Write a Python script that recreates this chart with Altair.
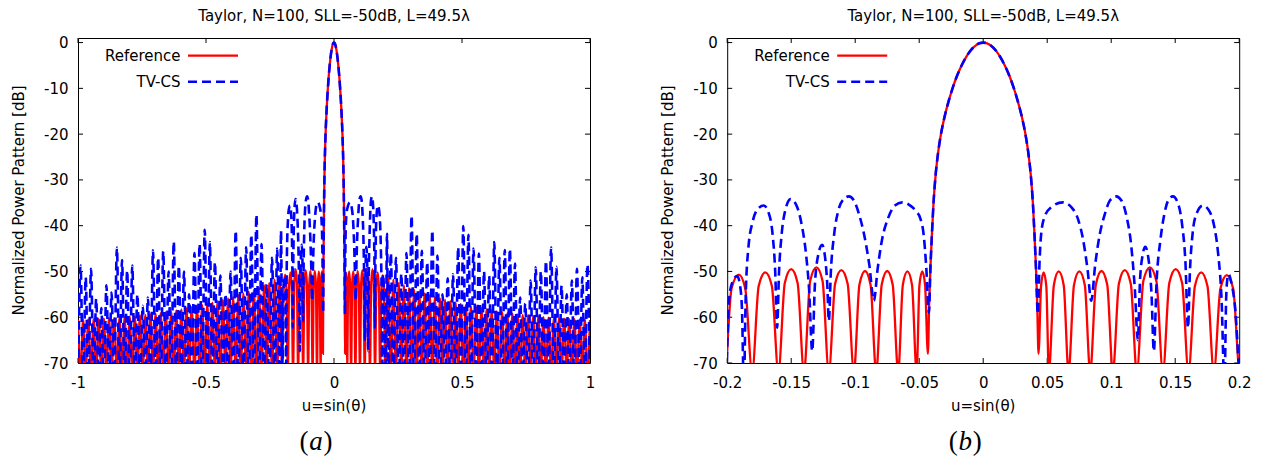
import altair as alt
import pandas as pd

FONT = "DejaVu Sans"
SERIF = "Liberation Serif"
RED = "#ff0000"
BLUE = "#0000ff"
TITLE = "Taylor, N=100, SLL=-50dB, L=49.5\u03bb"
YTITLE = "Normalized Power Pattern [dB]"
XTITLE = "u=sin(\u03b8)"
SERIES = ["Reference", "TV-CS"]

W, H = 512, 325
YTICKS = [-70, -60, -50, -40, -30, -20, -10, 0]
XTICKS_A = [-1, -0.5, 0, 0.5, 1]
XTICKS_B = [-0.2, -0.15, -0.1, -0.05, 0, 0.05, 0.1, 0.15, 0.2]

# ---- Reference pattern, |u| <= 0.2 ----
RED_NEAR_U = [
    -0.2020, -0.1966, -0.1909, -0.1859,
    -0.1805, -0.1754, -0.1702, -0.1651,
    -0.1600, -0.1550, -0.1500, -0.1450,
    -0.1400, -0.1352, -0.1303, -0.1255,
    -0.1206, -0.1157, -0.1108, -0.1059,
    -0.1010, -0.0967, -0.0923, -0.0880,
    -0.0836, -0.0793, -0.0750, -0.0707,
    -0.0664, -0.0628, -0.0592, -0.0556,
    -0.0520, -0.0498, -0.0476, -0.0454,
    -0.0432, -0.0422, -0.0412, -0.0400, -0.0388, -0.0372, -0.0352, -0.0333,
    -0.0300, -0.0270, -0.0242, -0.0205, -0.0165, -0.0130, -0.0096, -0.0060, -0.0030,
    0.0000,
    0.0030, 0.0060, 0.0096, 0.0130, 0.0165, 0.0205, 0.0242, 0.0270, 0.0300,
    0.0333, 0.0352, 0.0372, 0.0388, 0.0400, 0.0412, 0.0422, 0.0432,
    0.0452, 0.0472, 0.0493,
    0.0513, 0.0552, 0.0590, 0.0629,
    0.0667, 0.0709, 0.0751, 0.0794,
    0.0836, 0.0880, 0.0924, 0.0969,
    0.1013, 0.1060, 0.1106, 0.1153,
    0.1200, 0.1251, 0.1302, 0.1353,
    0.1404, 0.1454, 0.1504, 0.1554,
    0.1604, 0.1654, 0.1703, 0.1752,
    0.1802, 0.1853, 0.1903, 0.1953,
    0.2005,
]
RED_NEAR_DB = [
    -72, -53.7, -50.7, -53.7,
    -72, -53.2, -50.2, -53.2,
    -72, -52.5, -49.5, -52.5,
    -72, -52.1, -49.1, -52.1,
    -72, -52.7, -49.7, -52.7,
    -72, -52.9, -49.9, -52.9,
    -72, -52.9, -49.9, -52.9,
    -72, -53.0, -50.0, -53.0,
    -72, -53.0, -50.0, -53.0,
    -68, -57, -49, -41.5, -35, -29, -24, -20.5,
    -16, -12.8, -10.2, -7.3, -4.8, -3.0, -1.65, -0.65, -0.16,
    0,
    -0.16, -0.65, -1.65, -3.0, -4.8, -7.3, -10.2, -12.8, -16,
    -20.5, -24, -29, -35, -41.5, -49, -57, -68,
    -53.2, -50.2, -53.2,
    -72, -53.0, -50.0, -53.0,
    -72, -53.0, -50.0, -53.0,
    -72, -52.9, -49.9, -52.9,
    -72, -52.7, -49.7, -52.7,
    -72, -52.1, -49.1, -52.1,
    -72, -52.5, -49.5, -52.5,
    -72, -53.2, -50.2, -53.2,
    -72, -53.8, -50.8, -53.8,
    -72,
]

# ---- TV-CS pattern, |u| <= 0.2 ----
BLUE_NEAR_U = [
    -0.2015, -0.1985, -0.1955, -0.1922, -0.1900, -0.1885,
    -0.1870, -0.1855, -0.1835, -0.1800, -0.1760, -0.1714, -0.1675, -0.1645, -0.1625,
    -0.1610, -0.1595, -0.1575, -0.1545, -0.1505, -0.1460, -0.1420, -0.1385, -0.1360,
    -0.1336, -0.1315, -0.1290, -0.1258, -0.1235, -0.1218,
    -0.1206, -0.1190, -0.1165, -0.1130, -0.1090, -0.1050, -0.1010, -0.0970, -0.0930, -0.0890,
    -0.0854, -0.0825, -0.0790, -0.0745, -0.0690, -0.0633, -0.0575, -0.0525, -0.0490, -0.0465, -0.0445,
    -0.0424, -0.0412, -0.0400, -0.0388, -0.0372, -0.0352, -0.0333,
    -0.0300, -0.0270, -0.0242, -0.0205, -0.0165, -0.0130, -0.0096, -0.0060, -0.0030,
    0.0000,
    0.0030, 0.0060, 0.0096, 0.0130, 0.0165, 0.0205, 0.0242, 0.0270, 0.0300,
    0.0333, 0.0352, 0.0372, 0.0388, 0.0400, 0.0412, 0.0427,
    0.0440, 0.0453, 0.0480, 0.0530, 0.0622, 0.0690, 0.0740, 0.0780, 0.0815,
    0.0844, 0.0875, 0.0910, 0.0950, 0.0990, 0.1039, 0.1080, 0.1120, 0.1155, 0.1185,
    0.1208, 0.1225, 0.1245, 0.1266, 0.1290, 0.1315,
    0.1333, 0.1355, 0.1385, 0.1415, 0.1445, 0.1482, 0.1520, 0.1555, 0.1580,
    0.1600, 0.1615, 0.1635, 0.1665, 0.1716, 0.1760, 0.1800, 0.1835, 0.1862,
    0.1885, 0.1898, 0.1908, 0.1917, 0.1935, 0.1965,
    0.2015,
]
BLUE_NEAR_DB = [
    -75, -56, -52, -51.0, -53, -58,
    -75, -55, -45, -39, -36.3, -35.6, -37.3, -42, -50,
    -62.3, -50, -42, -36.5, -34.2, -35.5, -39.5, -46, -54,
    -67.4, -53, -46.5, -44.2, -47, -53,
    -60.8, -50, -42, -36.5, -34.2, -33.6, -34.5, -37.5, -42, -48.5,
    -56.4, -49.5, -43, -38.5, -35.6, -34.9, -35.5, -36.8, -38.5, -42, -49,
    -59, -49, -41.5, -35, -29, -24, -20.5,
    -16, -12.8, -10.2, -7.3, -4.8, -3.0, -1.65, -0.65, -0.16,
    0,
    -0.16, -0.65, -1.65, -3.0, -4.8, -7.3, -10.2, -12.8, -16,
    -20.5, -24, -29, -35, -41.5, -49, -59.3,
    -48, -41.8, -38, -36, -34.9, -36, -38.5, -43, -49.5,
    -56.4, -48.5, -42, -37.5, -34.5, -33.6, -34.5, -38, -44, -54,
    -65, -52, -46.5, -44.6, -47, -55,
    -67.4, -52, -43, -37.5, -34.5, -33.6, -35, -40, -48,
    -62.3, -50, -42, -37.5, -35.6, -36.5, -39.5, -46, -56,
    -75, -56, -51.5, -50.6, -52, -57,
    -75,
]

# ---- far side-lobe region 0.2 < |u| <= 1 ----
FAR_U_A = [0.212, 0.232, 0.253, 0.273, 0.293, 0.313, 0.333, 0.354, 0.374, 0.394,
           0.414, 0.434, 0.455, 0.475, 0.495, 0.515, 0.535, 0.556, 0.576, 0.596,
           0.616, 0.636, 0.657, 0.677, 0.697, 0.717, 0.737, 0.758, 0.778, 0.798,
           0.818, 0.838, 0.859, 0.879, 0.899, 0.919, 0.939, 0.960, 0.980, 1.000]
FAR_U_B = [0.222, 0.242, 0.263, 0.283, 0.303, 0.323, 0.343, 0.364, 0.384, 0.404,
           0.424, 0.444, 0.465, 0.485, 0.505, 0.525, 0.545, 0.566, 0.586, 0.606,
           0.626, 0.646, 0.667, 0.687, 0.707, 0.727, 0.747, 0.768, 0.788, 0.808,
           0.828, 0.848, 0.869, 0.889, 0.909, 0.929, 0.949, 0.970, 0.990]
RED_FAR_PEAK_DB = [-51.0, -51.8, -52.5, -53.0, -53.6, -54.0, -54.4, -54.8, -55.2, -55.6,
                   -55.9, -56.2, -56.5, -56.8, -57.1, -57.3, -57.6, -57.8, -58.0, -58.3,
                   -58.5, -58.7, -58.9, -59.1, -59.2, -59.4, -59.5, -59.6, -59.8, -59.9,
                   -60.0, -60.1, -60.2, -60.2, -60.3, -60.4, -60.4, -60.5, -60.5, -60.6]
RED_FAR_NULL_DB = -72
BLUE_FAR_FIRST_U = 0.207
BLUE_FAR_PEAK_DB_POS = [-41.8, -46, -47, -50.5, -46, -37.8, -41.8, -45.5, -48, -41,
                        -46.5, -55, -51.5, -50.6, -44.7, -40.1, -42, -45, -46.1, -50,
                        -51, -43.6, -47, -45.3, -45.1, -48.3, -55.7, -57, -52, -49.1,
                        -50, -47.7, -44.8, -49, -53.1, -55, -52, -49.4, -51.3, -48.5]
BLUE_FAR_PEAK_DB_NEG = [-41.1, -45, -47, -52.8, -44, -37.6, -42, -44.7, -47, -41.1,
                        -50, -55, -50.9, -48, -43.6, -40.9, -44, -46, -55, -50,
                        -48.8, -43.5, -50, -45.6, -47, -45.4, -55.7, -57.5, -55, -48.7,
                        -49.8, -47.5, -44.8, -54.6, -53, -58, -56, -49.4, -51.3, -48.7]
BLUE_FAR_NULL_DB = -75

# ---- assemble tables ----
red_pts = list(zip(RED_NEAR_U, RED_NEAR_DB))
for sgn in (1, -1):
    red_pts += [(sgn * u, d) for u, d in zip(FAR_U_A, RED_FAR_PEAK_DB)]
    red_pts += [(sgn * u, RED_FAR_NULL_DB) for u in FAR_U_B]
blue_pts = list(zip(BLUE_NEAR_U, BLUE_NEAR_DB))
blue_peak_u = [BLUE_FAR_FIRST_U] + FAR_U_B
for sgn, dbs in ((1, BLUE_FAR_PEAK_DB_POS), (-1, BLUE_FAR_PEAK_DB_NEG)):
    blue_pts += [(sgn * u, d) for u, d in zip(blue_peak_u, dbs)]
    blue_pts += [(sgn * u, BLUE_FAR_NULL_DB) for u in FAR_U_A]

df_red = pd.DataFrame(sorted(red_pts), columns=["u", "db"])
df_blue = pd.DataFrame(sorted(blue_pts), columns=["u", "db"])
ONE = pd.DataFrame({"k": [0]})


def panel(xmin, xmax, xticks, letter, marker):
    if xmax < 0.5:
        dr = df_red[(df_red.u >= -0.216) & (df_red.u <= 0.216)]
        db = df_blue[(df_blue.u >= -0.216) & (df_blue.u <= 0.216)]
    else:
        dr, db = df_red, df_blue
    xs = alt.Scale(domain=[xmin, xmax], nice=False, zero=False)
    ys = alt.Scale(domain=[-70, 1], nice=False, zero=False)
    common = dict(title=None, grid=False, domain=False, ticks=False, tickSize=0,
                  labelFont=FONT, labelFontSize=15, labelColor="black",
                  labelOverlap=False, labelFlush=False, labelBound=False,
                  labelExpr="'' + datum.value")
    xa = alt.Axis(values=xticks, labelPadding=12, **common)
    ya = alt.Axis(values=YTICKS, labelPadding=10, **common)

    def X(f):
        return alt.X(f + ":Q", scale=xs, axis=xa)

    def Y(f):
        return alt.Y(f + ":Q", scale=ys, axis=ya)

    xt = pd.DataFrame({"t": xticks})
    yt = pd.DataFrame({"t": YTICKS})
    layers = [
        alt.Chart(xt).mark_rule(color="black", strokeWidth=1).encode(
            x=X("t"), y=alt.value(H), y2=alt.value(H - 5)),
        alt.Chart(xt).mark_rule(color="black", strokeWidth=1).encode(
            x=X("t"), y=alt.value(0), y2=alt.value(5)),
        alt.Chart(yt).mark_rule(color="black", strokeWidth=1).encode(
            y=Y("t"), x=alt.value(0), x2=alt.value(5)),
        alt.Chart(yt).mark_rule(color="black", strokeWidth=1).encode(
            y=Y("t"), x=alt.value(W - 5), x2=alt.value(W)),
        alt.Chart(dr).mark_line(color=RED, strokeWidth=2.3, clip=True,
                                interpolate="monotone").encode(x=X("u"), y=Y("db")),
        alt.Chart(db).mark_line(color=BLUE, strokeWidth=2.6, clip=True, strokeDash=[9, 5],
                                interpolate="monotone").encode(x=X("u"), y=Y("db")),
    ]

    def txt(s, x, y, **kw):
        props = dict(font=FONT, fontSize=15, color="black", align="center",
                     baseline="alphabetic")
        props.update(kw)
        return alt.Chart(ONE).mark_text(text=s, **props).encode(
            x=alt.value(x), y=alt.value(y))

    # legend
    layers += [
        txt(SERIES[0], 102.5, 17.7, align="right", baseline="middle"),
        txt(SERIES[1], 102.5, 43.7, align="right", baseline="middle"),
        alt.Chart(ONE).mark_rule(color=RED, strokeWidth=2.3).encode(
            x=alt.value(110), x2=alt.value(160), y=alt.value(17.7)),
        alt.Chart(ONE).mark_rule(color=BLUE, strokeWidth=2.6, strokeDash=[9, 5]).encode(
            x=alt.value(110), x2=alt.value(160), y=alt.value(43.7)),
    ]
    # titles and caption
    layers += [
        txt(TITLE, W / 2, -17.3),
        txt(XTITLE, W / 2, 372.7),
        txt(YTITLE, -54.5, H / 2, angle=270),
        txt("(", 226, 412.2, font=SERIF, fontSize=27),
        txt(letter, 238, 412.2, font=SERIF, fontSize=27, fontStyle="italic"),
        txt(")", 250, 412.2, font=SERIF, fontSize=27),
    ]
    if marker:
        layers.append(alt.Chart(ONE).mark_rule(opacity=0, strokeOpacity=0).encode(
            x=alt.value(-69.5), x2=alt.value(-69.5), y=alt.value(100), y2=alt.value(110)))
    return alt.layer(*layers).properties(width=W, height=H)


left = panel(-1, 1, XTICKS_A, "a", True)
right = panel(-0.2, 0.2, XTICKS_B, "b", False)

chart = alt.hconcat(left, right, spacing=137.2, bounds="flush", padding=0).configure_view(
    stroke="black", strokeWidth=1)

chart.save("out.html", embed_options={"renderer": "svg", "actions": False})
